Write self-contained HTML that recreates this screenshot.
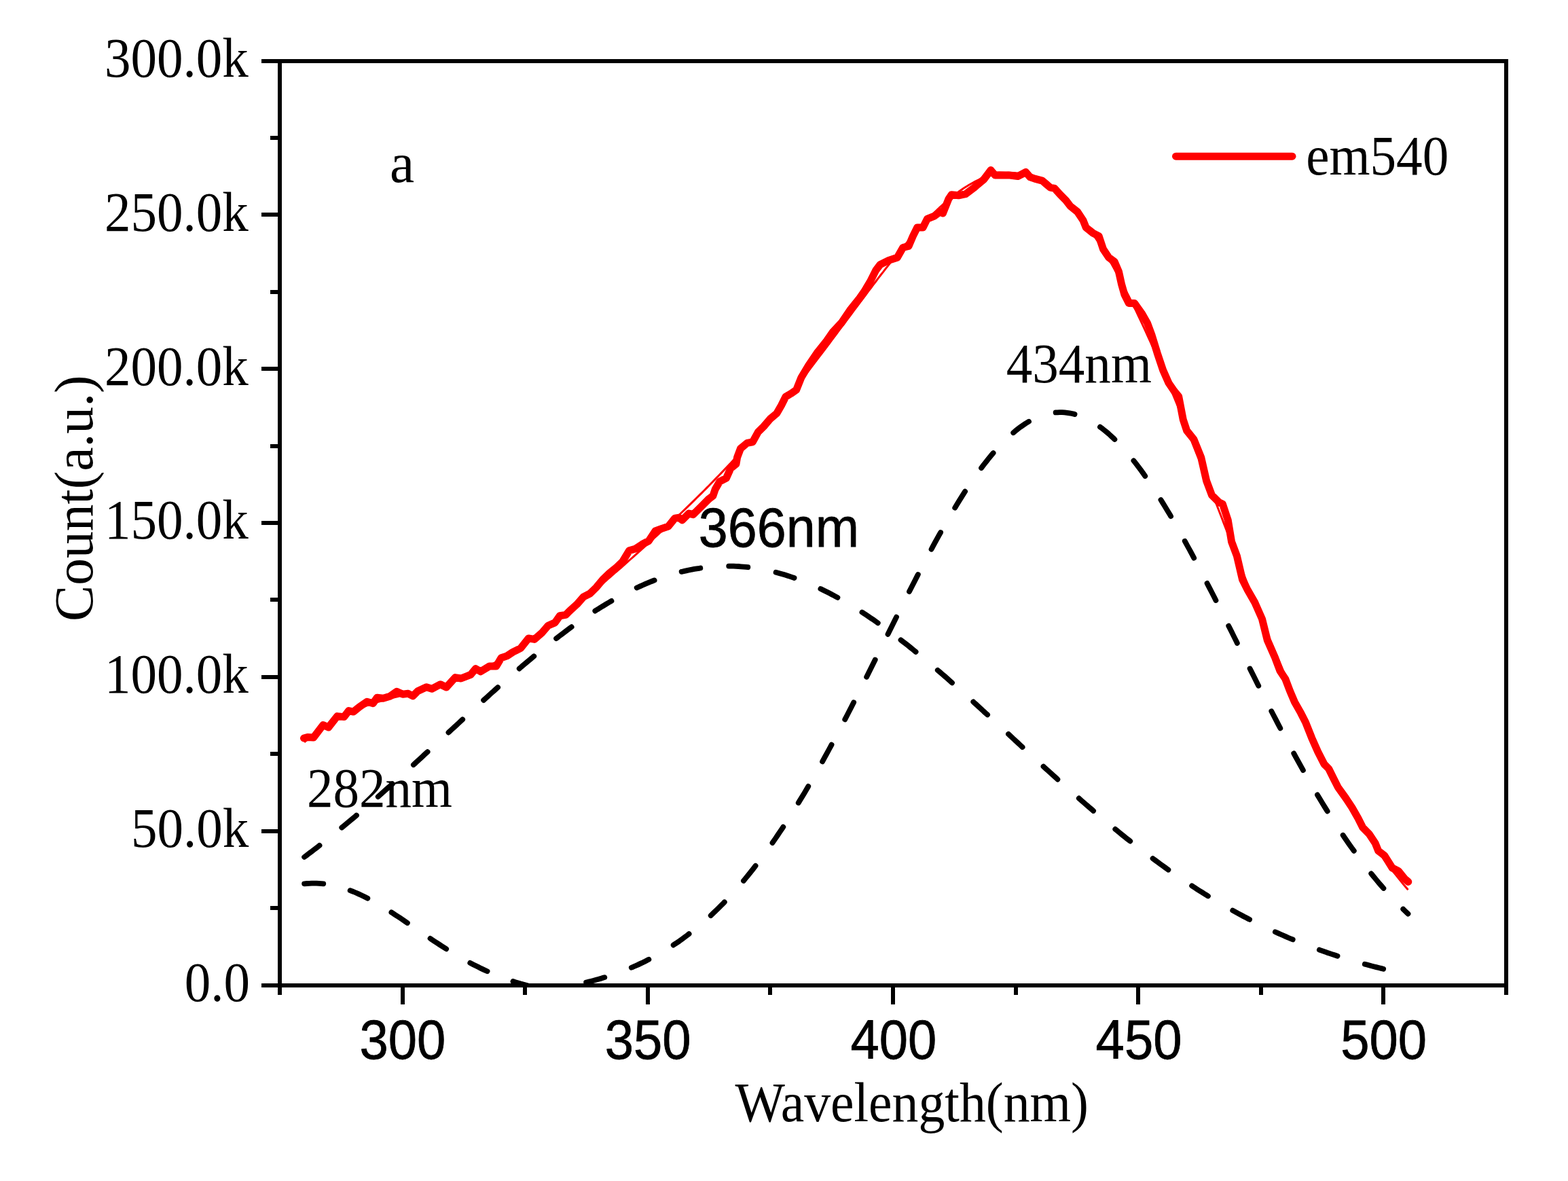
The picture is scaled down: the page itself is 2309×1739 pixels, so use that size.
<!DOCTYPE html><html><head><meta charset="utf-8"><title>Count vs Wavelength</title><style>html,body{margin:0;padding:0;background:#fff;overflow:hidden}svg{display:block}</style></head><body>
<svg width="2309" height="1739" viewBox="0 0 2309 1739">
<rect x="0" y="0" width="2309" height="1739" fill="#fff"/>
<defs><clipPath id="pc"><rect x="415.0" y="93.0" width="1800.0" height="1355.0"/></clipPath></defs>
<g clip-path="url(#pc)" fill="none">
<path d="M448.1,1301.3 L451.7,1301.0 L455.3,1300.8 L459.0,1300.6 L462.6,1300.6 L466.2,1300.7 L469.8,1300.9 L473.4,1301.1 L477.0,1301.5 L480.6,1302.0 L484.2,1302.5 L487.9,1303.2 L491.5,1303.9 L495.1,1304.7 L498.7,1305.7 L502.3,1306.7 L505.9,1307.8 L509.5,1309.0 L513.1,1310.2 L516.7,1311.6 L520.4,1313.0 L524.0,1314.5 L527.6,1316.1 L531.2,1317.8 L534.8,1319.5 L538.4,1321.3 L542.0,1323.1 L545.6,1325.1 L549.3,1327.0 L552.9,1329.1 L556.5,1331.1 L560.1,1333.3 L563.7,1335.4 L567.3,1337.6 L570.9,1339.9 L574.5,1342.2 L578.2,1344.5 L581.8,1346.9 L585.4,1349.2 L589.0,1351.6 L592.6,1354.0 L596.2,1356.5 L599.8,1358.9 L603.4,1361.4 L607.0,1363.8 L610.7,1366.3 L614.3,1368.8 L617.9,1371.2 L621.5,1373.7 L625.1,1376.2 L628.7,1378.6 L632.3,1381.0 L635.9,1383.5 L639.6,1385.9 L643.2,1388.3 L646.8,1390.6 L650.4,1393.0 L654.0,1395.3 L657.6,1397.6 L661.2,1399.8 L664.8,1402.0 L668.5,1404.2 L672.1,1406.4 L675.7,1408.5 L679.3,1410.6 L682.9,1412.7 L686.5,1414.7 L690.1,1416.6 L693.7,1418.6 L697.3,1420.5 L701.0,1422.3 L704.6,1424.1 L708.2,1425.9 L711.8,1427.6 L715.4,1429.3 L719.0,1430.9 L722.6,1432.5 L726.2,1434.1 L729.9,1435.6 L733.5,1437.0 L737.1,1438.5 L740.7,1439.8 L744.3,1441.2 L747.9,1442.5 L751.5,1443.7 L755.1,1444.9 L758.8,1446.1 L762.4,1447.2 L766.0,1448.3 L769.6,1449.3 L773.2,1450.3 L776.8,1451.3 L780.4,1452.3 L784.0,1453.2 L787.6,1454.0 L791.3,1454.8 L794.9,1455.6 L798.5,1456.4 L802.1,1457.1 L805.7,1457.8 L809.3,1458.5 L812.9,1459.1 L816.5,1459.7 L820.2,1460.3 L823.8,1460.9 L827.4,1461.4 L831.0,1461.9 L834.6,1462.4 L838.2,1462.9 L841.8,1463.3 L845.4,1463.7 L849.1,1464.1 L852.7,1464.5 L856.3,1464.8 L859.9,1465.2 L863.5,1465.5 L867.1,1465.8 L870.7,1466.1 L874.3,1466.3 L877.9,1466.6 L881.6,1466.8 L885.2,1467.0 L888.8,1467.3 L892.4,1467.5 L896.0,1467.6 L899.6,1467.8 L903.2,1468.0 L906.8,1468.1 L910.5,1468.3 L914.1,1468.4 L917.7,1468.6 L921.3,1468.7 L924.9,1468.8 L928.5,1468.9 L932.1,1469.0 L935.7,1469.1 L939.4,1469.2 L943.0,1469.3 L946.6,1469.3 L950.2,1469.4 L953.8,1469.5 L957.4,1469.5 L961.0,1469.6 L964.6,1469.6 L968.2,1469.7 L971.9,1469.7 L975.5,1469.8 L979.1,1469.8 L982.7,1469.9 L986.3,1469.9 L989.9,1469.9 L993.5,1470.0 L997.1,1470.0 L1000.8,1470.0 L1004.4,1470.0 L1008.0,1470.0 L1011.6,1470.1 L1015.2,1470.1 L1018.8,1470.1 L1022.4,1470.1 L1026.0,1470.1 L1029.7,1470.1 L1033.3,1470.2 L1036.9,1470.2 L1040.5,1470.2 L1044.1,1470.2 L1047.7,1470.2 L1051.3,1470.2 L1054.9,1470.2 L1058.5,1470.2 L1062.2,1470.2 L1065.8,1470.2 L1069.4,1470.2 L1073.0,1470.2 L1076.6,1470.2 L1080.2,1470.2 L1083.8,1470.2 L1087.4,1470.3 L1091.1,1470.3 L1094.7,1470.3 L1098.3,1470.3 L1101.9,1470.3 L1105.5,1470.3 L1109.1,1470.3 L1112.7,1470.3 L1116.3,1470.3 L1120.0,1470.3 L1123.6,1470.3 L1127.2,1470.3 L1130.8,1470.3 L1134.4,1470.3 L1138.0,1470.3 L1141.6,1470.3 L1145.2,1470.3 L1148.8,1470.3 L1152.5,1470.3 L1156.1,1470.3 L1159.7,1470.3 L1163.3,1470.3 L1166.9,1470.3 L1170.5,1470.3 L1174.1,1470.3 L1177.7,1470.3 L1181.4,1470.3 L1185.0,1470.3 L1188.6,1470.3 L1192.2,1470.3 L1195.8,1470.3 L1199.4,1470.3 L1203.0,1470.3 L1206.6,1470.3 L1210.3,1470.3 L1213.9,1470.3 L1217.5,1470.3 L1221.1,1470.3 L1224.7,1470.3 L1228.3,1470.3 L1231.9,1470.3 L1235.5,1470.3 L1239.1,1470.3 L1242.8,1470.3 L1246.4,1470.3 L1250.0,1470.3 L1253.6,1470.3 L1257.2,1470.3 L1260.8,1470.3 L1264.4,1470.3 L1268.0,1470.3 L1271.7,1470.3 L1275.3,1470.3 L1278.9,1470.3 L1282.5,1470.3 L1286.1,1470.3 L1289.7,1470.3 L1293.3,1470.3 L1296.9,1470.3 L1300.6,1470.3 L1304.2,1470.3 L1307.8,1470.3 L1311.4,1470.3 L1315.0,1470.3 L1318.6,1470.3 L1322.2,1470.3 L1325.8,1470.3 L1329.4,1470.3 L1333.1,1470.3 L1336.7,1470.3 L1340.3,1470.3 L1343.9,1470.3 L1347.5,1470.3 L1351.1,1470.3 L1354.7,1470.3 L1358.3,1470.3 L1362.0,1470.3 L1365.6,1470.3 L1369.2,1470.3 L1372.8,1470.3 L1376.4,1470.3 L1380.0,1470.3 L1383.6,1470.3 L1387.2,1470.3 L1390.9,1470.3 L1394.5,1470.3 L1398.1,1470.3 L1401.7,1470.3 L1405.3,1470.3 L1408.9,1470.3 L1412.5,1470.3 L1416.1,1470.3 L1419.7,1470.3 L1423.4,1470.3 L1427.0,1470.3 L1430.6,1470.3 L1434.2,1470.3 L1437.8,1470.3 L1441.4,1470.3 L1445.0,1470.3 L1448.6,1470.3 L1452.3,1470.3 L1455.9,1470.3 L1459.5,1470.3 L1463.1,1470.3 L1466.7,1470.3 L1470.3,1470.3 L1473.9,1470.3 L1477.5,1470.3 L1481.2,1470.3 L1484.8,1470.3 L1488.4,1470.3 L1492.0,1470.3 L1495.6,1470.3 L1499.2,1470.3 L1502.8,1470.3 L1506.4,1470.3 L1510.0,1470.3 L1513.7,1470.3 L1517.3,1470.3 L1520.9,1470.3 L1524.5,1470.3 L1528.1,1470.3 L1531.7,1470.3 L1535.3,1470.3 L1538.9,1470.3 L1542.6,1470.3 L1546.2,1470.3 L1549.8,1470.3 L1553.4,1470.3 L1557.0,1470.3 L1560.6,1470.3 L1564.2,1470.3 L1567.8,1470.3 L1571.5,1470.3 L1575.1,1470.3 L1578.7,1470.3 L1582.3,1470.3 L1585.9,1470.3 L1589.5,1470.3 L1593.1,1470.3 L1596.7,1470.3 L1600.3,1470.3 L1604.0,1470.3 L1607.6,1470.3 L1611.2,1470.3 L1614.8,1470.3 L1618.4,1470.3 L1622.0,1470.3 L1625.6,1470.3 L1629.2,1470.3 L1632.9,1470.3 L1636.5,1470.3 L1640.1,1470.3 L1643.7,1470.3 L1647.3,1470.3 L1650.9,1470.3 L1654.5,1470.3 L1658.1,1470.3 L1661.8,1470.3 L1665.4,1470.3 L1669.0,1470.3 L1672.6,1470.3 L1676.2,1470.3 L1679.8,1470.3 L1683.4,1470.3 L1687.0,1470.3 L1690.6,1470.3 L1694.3,1470.3 L1697.9,1470.3 L1701.5,1470.3 L1705.1,1470.3 L1708.7,1470.3 L1712.3,1470.3 L1715.9,1470.3 L1719.5,1470.3 L1723.2,1470.3 L1726.8,1470.3 L1730.4,1470.3 L1734.0,1470.3 L1737.6,1470.3 L1741.2,1470.3 L1744.8,1470.3 L1748.4,1470.3 L1752.1,1470.3 L1755.7,1470.3 L1759.3,1470.3 L1762.9,1470.3 L1766.5,1470.3 L1770.1,1470.3 L1773.7,1470.3 L1777.3,1470.3 L1780.9,1470.3 L1784.6,1470.3 L1788.2,1470.3 L1791.8,1470.3 L1795.4,1470.3 L1799.0,1470.3 L1802.6,1470.3 L1806.2,1470.3 L1809.8,1470.3 L1813.5,1470.3 L1817.1,1470.3 L1820.7,1470.3 L1824.3,1470.3 L1827.9,1470.3 L1831.5,1470.3 L1835.1,1470.3 L1838.7,1470.3 L1842.4,1470.3 L1846.0,1470.3 L1849.6,1470.3 L1853.2,1470.3 L1856.8,1470.3 L1860.4,1470.3 L1864.0,1470.3 L1867.6,1470.3 L1871.2,1470.3 L1874.9,1470.3 L1878.5,1470.3 L1882.1,1470.3 L1885.7,1470.3 L1889.3,1470.3 L1892.9,1470.3 L1896.5,1470.3 L1900.1,1470.3 L1903.8,1470.3 L1907.4,1470.3 L1911.0,1470.3 L1914.6,1470.3 L1918.2,1470.3 L1921.8,1470.3 L1925.4,1470.3 L1929.0,1470.3 L1932.7,1470.3 L1936.3,1470.3 L1939.9,1470.3 L1943.5,1470.3 L1947.1,1470.3 L1950.7,1470.3 L1954.3,1470.3 L1957.9,1470.3 L1961.5,1470.3 L1965.2,1470.3 L1968.8,1470.3 L1972.4,1470.3 L1976.0,1470.3 L1979.6,1470.3 L1983.2,1470.3 L1986.8,1470.3 L1990.4,1470.3 L1994.1,1470.3 L1997.7,1470.3 L2001.3,1470.3 L2004.9,1470.3 L2008.5,1470.3 L2012.1,1470.3 L2015.7,1470.3 L2019.3,1470.3 L2023.0,1470.3 L2026.6,1470.3 L2030.2,1470.3 L2033.8,1470.3 L2037.4,1470.3 L2041.0,1470.3 L2044.6,1470.3 L2048.2,1470.3 L2051.8,1470.3 L2055.5,1470.3 L2059.1,1470.3 L2062.7,1470.3 L2066.3,1470.3 L2069.9,1470.3 L2073.5,1470.3" stroke="#000" stroke-width="7.8" stroke-dasharray="28.2 40.70" stroke-dashoffset="0.0" stroke-linecap="round" stroke-linejoin="round"/>
<path d="M448.1,1262.0 L451.7,1259.3 L455.3,1256.5 L459.0,1253.8 L462.6,1251.0 L466.2,1248.3 L469.8,1245.5 L473.4,1242.6 L477.0,1239.8 L480.6,1236.9 L484.2,1234.1 L487.9,1231.2 L491.5,1228.3 L495.1,1225.3 L498.7,1222.4 L502.3,1219.4 L505.9,1216.5 L509.5,1213.5 L513.1,1210.5 L516.7,1207.5 L520.4,1204.4 L524.0,1201.4 L527.6,1198.3 L531.2,1195.2 L534.8,1192.1 L538.4,1189.0 L542.0,1185.9 L545.6,1182.8 L549.3,1179.6 L552.9,1176.5 L556.5,1173.3 L560.1,1170.1 L563.7,1166.9 L567.3,1163.7 L570.9,1160.5 L574.5,1157.3 L578.2,1154.0 L581.8,1150.8 L585.4,1147.5 L589.0,1144.3 L592.6,1141.0 L596.2,1137.7 L599.8,1134.4 L603.4,1131.1 L607.0,1127.8 L610.7,1124.5 L614.3,1121.2 L617.9,1117.9 L621.5,1114.6 L625.1,1111.2 L628.7,1107.9 L632.3,1104.6 L635.9,1101.2 L639.6,1097.9 L643.2,1094.5 L646.8,1091.2 L650.4,1087.9 L654.0,1084.5 L657.6,1081.2 L661.2,1077.8 L664.8,1074.5 L668.5,1071.1 L672.1,1067.8 L675.7,1064.5 L679.3,1061.1 L682.9,1057.8 L686.5,1054.5 L690.1,1051.1 L693.7,1047.8 L697.3,1044.5 L701.0,1041.2 L704.6,1037.9 L708.2,1034.6 L711.8,1031.3 L715.4,1028.1 L719.0,1024.8 L722.6,1021.5 L726.2,1018.3 L729.9,1015.0 L733.5,1011.8 L737.1,1008.6 L740.7,1005.4 L744.3,1002.2 L747.9,999.0 L751.5,995.9 L755.1,992.7 L758.8,989.6 L762.4,986.5 L766.0,983.4 L769.6,980.3 L773.2,977.3 L776.8,974.2 L780.4,971.2 L784.0,968.2 L787.6,965.2 L791.3,962.2 L794.9,959.3 L798.5,956.3 L802.1,953.4 L805.7,950.6 L809.3,947.7 L812.9,944.9 L816.5,942.1 L820.2,939.3 L823.8,936.5 L827.4,933.8 L831.0,931.1 L834.6,928.4 L838.2,925.7 L841.8,923.1 L845.4,920.5 L849.1,918.0 L852.7,915.4 L856.3,912.9 L859.9,910.4 L863.5,908.0 L867.1,905.6 L870.7,903.2 L874.3,900.9 L877.9,898.5 L881.6,896.3 L885.2,894.0 L888.8,891.8 L892.4,889.6 L896.0,887.5 L899.6,885.4 L903.2,883.3 L906.8,881.3 L910.5,879.3 L914.1,877.3 L917.7,875.4 L921.3,873.5 L924.9,871.7 L928.5,869.9 L932.1,868.1 L935.7,866.4 L939.4,864.7 L943.0,863.1 L946.6,861.5 L950.2,859.9 L953.8,858.4 L957.4,856.9 L961.0,855.5 L964.6,854.1 L968.2,852.8 L971.9,851.5 L975.5,850.2 L979.1,849.0 L982.7,847.8 L986.3,846.7 L989.9,845.6 L993.5,844.6 L997.1,843.6 L1000.8,842.6 L1004.4,841.7 L1008.0,840.9 L1011.6,840.1 L1015.2,839.3 L1018.8,838.6 L1022.4,837.9 L1026.0,837.3 L1029.7,836.8 L1033.3,836.2 L1036.9,835.7 L1040.5,835.3 L1044.1,834.9 L1047.7,834.6 L1051.3,834.3 L1054.9,834.1 L1058.5,833.9 L1062.2,833.7 L1065.8,833.6 L1069.4,833.6 L1073.0,833.6 L1076.6,833.6 L1080.2,833.7 L1083.8,833.9 L1087.4,834.0 L1091.1,834.3 L1094.7,834.6 L1098.3,834.9 L1101.9,835.3 L1105.5,835.7 L1109.1,836.2 L1112.7,836.7 L1116.3,837.3 L1120.0,837.9 L1123.6,838.5 L1127.2,839.2 L1130.8,840.0 L1134.4,840.8 L1138.0,841.6 L1141.6,842.5 L1145.2,843.5 L1148.8,844.5 L1152.5,845.5 L1156.1,846.6 L1159.7,847.7 L1163.3,848.9 L1166.9,850.1 L1170.5,851.3 L1174.1,852.6 L1177.7,854.0 L1181.4,855.3 L1185.0,856.8 L1188.6,858.2 L1192.2,859.7 L1195.8,861.3 L1199.4,862.9 L1203.0,864.5 L1206.6,866.2 L1210.3,867.9 L1213.9,869.7 L1217.5,871.5 L1221.1,873.3 L1224.7,875.2 L1228.3,877.1 L1231.9,879.1 L1235.5,881.1 L1239.1,883.1 L1242.8,885.1 L1246.4,887.2 L1250.0,889.4 L1253.6,891.6 L1257.2,893.8 L1260.8,896.0 L1264.4,898.3 L1268.0,900.6 L1271.7,902.9 L1275.3,905.3 L1278.9,907.7 L1282.5,910.2 L1286.1,912.6 L1289.7,915.1 L1293.3,917.7 L1296.9,920.2 L1300.6,922.8 L1304.2,925.5 L1307.8,928.1 L1311.4,930.8 L1315.0,933.5 L1318.6,936.2 L1322.2,939.0 L1325.8,941.8 L1329.4,944.6 L1333.1,947.4 L1336.7,950.2 L1340.3,953.1 L1343.9,956.0 L1347.5,959.0 L1351.1,961.9 L1354.7,964.9 L1358.3,967.8 L1362.0,970.9 L1365.6,973.9 L1369.2,976.9 L1372.8,980.0 L1376.4,983.1 L1380.0,986.2 L1383.6,989.3 L1387.2,992.4 L1390.9,995.5 L1394.5,998.7 L1398.1,1001.9 L1401.7,1005.1 L1405.3,1008.3 L1408.9,1011.5 L1412.5,1014.7 L1416.1,1017.9 L1419.7,1021.2 L1423.4,1024.4 L1427.0,1027.7 L1430.6,1031.0 L1434.2,1034.3 L1437.8,1037.5 L1441.4,1040.8 L1445.0,1044.1 L1448.6,1047.5 L1452.3,1050.8 L1455.9,1054.1 L1459.5,1057.4 L1463.1,1060.8 L1466.7,1064.1 L1470.3,1067.4 L1473.9,1070.8 L1477.5,1074.1 L1481.2,1077.5 L1484.8,1080.8 L1488.4,1084.1 L1492.0,1087.5 L1495.6,1090.8 L1499.2,1094.2 L1502.8,1097.5 L1506.4,1100.9 L1510.0,1104.2 L1513.7,1107.5 L1517.3,1110.9 L1520.9,1114.2 L1524.5,1117.5 L1528.1,1120.8 L1531.7,1124.2 L1535.3,1127.5 L1538.9,1130.8 L1542.6,1134.1 L1546.2,1137.3 L1549.8,1140.6 L1553.4,1143.9 L1557.0,1147.2 L1560.6,1150.4 L1564.2,1153.7 L1567.8,1156.9 L1571.5,1160.1 L1575.1,1163.4 L1578.7,1166.6 L1582.3,1169.8 L1585.9,1172.9 L1589.5,1176.1 L1593.1,1179.3 L1596.7,1182.4 L1600.3,1185.6 L1604.0,1188.7 L1607.6,1191.8 L1611.2,1194.9 L1614.8,1198.0 L1618.4,1201.0 L1622.0,1204.1 L1625.6,1207.1 L1629.2,1210.1 L1632.9,1213.2 L1636.5,1216.1 L1640.1,1219.1 L1643.7,1222.1 L1647.3,1225.0 L1650.9,1228.0 L1654.5,1230.9 L1658.1,1233.8 L1661.8,1236.6 L1665.4,1239.5 L1669.0,1242.3 L1672.6,1245.1 L1676.2,1248.0 L1679.8,1250.7 L1683.4,1253.5 L1687.0,1256.3 L1690.6,1259.0 L1694.3,1261.7 L1697.9,1264.4 L1701.5,1267.0 L1705.1,1269.7 L1708.7,1272.3 L1712.3,1274.9 L1715.9,1277.5 L1719.5,1280.1 L1723.2,1282.7 L1726.8,1285.2 L1730.4,1287.7 L1734.0,1290.2 L1737.6,1292.7 L1741.2,1295.1 L1744.8,1297.5 L1748.4,1299.9 L1752.1,1302.3 L1755.7,1304.7 L1759.3,1307.0 L1762.9,1309.4 L1766.5,1311.7 L1770.1,1313.9 L1773.7,1316.2 L1777.3,1318.4 L1780.9,1320.7 L1784.6,1322.8 L1788.2,1325.0 L1791.8,1327.2 L1795.4,1329.3 L1799.0,1331.4 L1802.6,1333.5 L1806.2,1335.6 L1809.8,1337.6 L1813.5,1339.6 L1817.1,1341.6 L1820.7,1343.6 L1824.3,1345.6 L1827.9,1347.5 L1831.5,1349.5 L1835.1,1351.3 L1838.7,1353.2 L1842.4,1355.1 L1846.0,1356.9 L1849.6,1358.7 L1853.2,1360.5 L1856.8,1362.3 L1860.4,1364.0 L1864.0,1365.8 L1867.6,1367.5 L1871.2,1369.2 L1874.9,1370.9 L1878.5,1372.5 L1882.1,1374.1 L1885.7,1375.7 L1889.3,1377.3 L1892.9,1378.9 L1896.5,1380.5 L1900.1,1382.0 L1903.8,1383.5 L1907.4,1385.0 L1911.0,1386.5 L1914.6,1387.9 L1918.2,1389.3 L1921.8,1390.8 L1925.4,1392.2 L1929.0,1393.5 L1932.7,1394.9 L1936.3,1396.2 L1939.9,1397.5 L1943.5,1398.9 L1947.1,1400.1 L1950.7,1401.4 L1954.3,1402.7 L1957.9,1403.9 L1961.5,1405.1 L1965.2,1406.3 L1968.8,1407.5 L1972.4,1408.6 L1976.0,1409.8 L1979.6,1410.9 L1983.2,1412.0 L1986.8,1413.1 L1990.4,1414.2 L1994.1,1415.3 L1997.7,1416.3 L2001.3,1417.3 L2004.9,1418.4 L2008.5,1419.4 L2012.1,1420.3 L2015.7,1421.3 L2019.3,1422.3 L2023.0,1423.2 L2026.6,1424.1 L2030.2,1425.0 L2033.8,1425.9 L2037.4,1426.8 L2041.0,1427.7 L2044.6,1428.5 L2048.2,1429.4 L2051.8,1430.2 L2055.5,1431.0 L2059.1,1431.8 L2062.7,1432.6 L2066.3,1433.3 L2069.9,1434.1 L2073.5,1434.8" stroke="#000" stroke-width="7.8" stroke-dasharray="28.2 42.00" stroke-dashoffset="0.0" stroke-linecap="round" stroke-linejoin="round"/>
<path d="M448.1,1470.2 L451.7,1470.2 L455.3,1470.2 L459.0,1470.2 L462.6,1470.2 L466.2,1470.2 L469.8,1470.1 L473.4,1470.1 L477.0,1470.1 L480.6,1470.1 L484.2,1470.1 L487.9,1470.1 L491.5,1470.1 L495.1,1470.1 L498.7,1470.1 L502.3,1470.1 L505.9,1470.0 L509.5,1470.0 L513.1,1470.0 L516.7,1470.0 L520.4,1470.0 L524.0,1470.0 L527.6,1470.0 L531.2,1469.9 L534.8,1469.9 L538.4,1469.9 L542.0,1469.9 L545.6,1469.9 L549.3,1469.8 L552.9,1469.8 L556.5,1469.8 L560.1,1469.8 L563.7,1469.7 L567.3,1469.7 L570.9,1469.7 L574.5,1469.6 L578.2,1469.6 L581.8,1469.6 L585.4,1469.5 L589.0,1469.5 L592.6,1469.4 L596.2,1469.4 L599.8,1469.3 L603.4,1469.3 L607.0,1469.2 L610.7,1469.2 L614.3,1469.1 L617.9,1469.1 L621.5,1469.0 L625.1,1468.9 L628.7,1468.9 L632.3,1468.8 L635.9,1468.7 L639.6,1468.6 L643.2,1468.6 L646.8,1468.5 L650.4,1468.4 L654.0,1468.3 L657.6,1468.2 L661.2,1468.1 L664.8,1468.0 L668.5,1467.9 L672.1,1467.8 L675.7,1467.6 L679.3,1467.5 L682.9,1467.4 L686.5,1467.2 L690.1,1467.1 L693.7,1466.9 L697.3,1466.8 L701.0,1466.6 L704.6,1466.4 L708.2,1466.3 L711.8,1466.1 L715.4,1465.9 L719.0,1465.7 L722.6,1465.5 L726.2,1465.3 L729.9,1465.0 L733.5,1464.8 L737.1,1464.5 L740.7,1464.3 L744.3,1464.0 L747.9,1463.7 L751.5,1463.4 L755.1,1463.1 L758.8,1462.8 L762.4,1462.5 L766.0,1462.2 L769.6,1461.8 L773.2,1461.5 L776.8,1461.1 L780.4,1460.7 L784.0,1460.3 L787.6,1459.9 L791.3,1459.4 L794.9,1459.0 L798.5,1458.5 L802.1,1458.0 L805.7,1457.5 L809.3,1457.0 L812.9,1456.4 L816.5,1455.9 L820.2,1455.3 L823.8,1454.7 L827.4,1454.1 L831.0,1453.4 L834.6,1452.8 L838.2,1452.1 L841.8,1451.4 L845.4,1450.6 L849.1,1449.9 L852.7,1449.1 L856.3,1448.3 L859.9,1447.4 L863.5,1446.5 L867.1,1445.6 L870.7,1444.7 L874.3,1443.8 L877.9,1442.8 L881.6,1441.8 L885.2,1440.7 L888.8,1439.6 L892.4,1438.5 L896.0,1437.4 L899.6,1436.2 L903.2,1435.0 L906.8,1433.7 L910.5,1432.4 L914.1,1431.1 L917.7,1429.7 L921.3,1428.3 L924.9,1426.8 L928.5,1425.3 L932.1,1423.8 L935.7,1422.2 L939.4,1420.6 L943.0,1418.9 L946.6,1417.2 L950.2,1415.4 L953.8,1413.6 L957.4,1411.8 L961.0,1409.9 L964.6,1407.9 L968.2,1405.9 L971.9,1403.8 L975.5,1401.7 L979.1,1399.6 L982.7,1397.3 L986.3,1395.1 L989.9,1392.7 L993.5,1390.3 L997.1,1387.9 L1000.8,1385.4 L1004.4,1382.8 L1008.0,1380.2 L1011.6,1377.5 L1015.2,1374.7 L1018.8,1371.9 L1022.4,1369.1 L1026.0,1366.1 L1029.7,1363.1 L1033.3,1360.0 L1036.9,1356.9 L1040.5,1353.7 L1044.1,1350.4 L1047.7,1347.1 L1051.3,1343.7 L1054.9,1340.2 L1058.5,1336.7 L1062.2,1333.0 L1065.8,1329.4 L1069.4,1325.6 L1073.0,1321.8 L1076.6,1317.9 L1080.2,1313.9 L1083.8,1309.8 L1087.4,1305.7 L1091.1,1301.5 L1094.7,1297.3 L1098.3,1292.9 L1101.9,1288.5 L1105.5,1284.0 L1109.1,1279.5 L1112.7,1274.8 L1116.3,1270.1 L1120.0,1265.3 L1123.6,1260.5 L1127.2,1255.5 L1130.8,1250.5 L1134.4,1245.4 L1138.0,1240.3 L1141.6,1235.1 L1145.2,1229.8 L1148.8,1224.4 L1152.5,1219.0 L1156.1,1213.4 L1159.7,1207.9 L1163.3,1202.2 L1166.9,1196.5 L1170.5,1190.7 L1174.1,1184.8 L1177.7,1178.9 L1181.4,1172.9 L1185.0,1166.9 L1188.6,1160.7 L1192.2,1154.6 L1195.8,1148.3 L1199.4,1142.0 L1203.0,1135.7 L1206.6,1129.2 L1210.3,1122.8 L1213.9,1116.2 L1217.5,1109.6 L1221.1,1103.0 L1224.7,1096.3 L1228.3,1089.6 L1231.9,1082.8 L1235.5,1076.0 L1239.1,1069.1 L1242.8,1062.2 L1246.4,1055.2 L1250.0,1048.3 L1253.6,1041.2 L1257.2,1034.2 L1260.8,1027.1 L1264.4,1020.0 L1268.0,1012.8 L1271.7,1005.7 L1275.3,998.5 L1278.9,991.3 L1282.5,984.1 L1286.1,976.8 L1289.7,969.6 L1293.3,962.3 L1296.9,955.1 L1300.6,947.8 L1304.2,940.6 L1307.8,933.3 L1311.4,926.0 L1315.0,918.8 L1318.6,911.5 L1322.2,904.3 L1325.8,897.1 L1329.4,889.9 L1333.1,882.8 L1336.7,875.6 L1340.3,868.5 L1343.9,861.5 L1347.5,854.4 L1351.1,847.4 L1354.7,840.5 L1358.3,833.5 L1362.0,826.7 L1365.6,819.9 L1369.2,813.1 L1372.8,806.4 L1376.4,799.7 L1380.0,793.2 L1383.6,786.7 L1387.2,780.2 L1390.9,773.8 L1394.5,767.6 L1398.1,761.3 L1401.7,755.2 L1405.3,749.2 L1408.9,743.2 L1412.5,737.4 L1416.1,731.6 L1419.7,725.9 L1423.4,720.3 L1427.0,714.9 L1430.6,709.5 L1434.2,704.3 L1437.8,699.1 L1441.4,694.1 L1445.0,689.2 L1448.6,684.4 L1452.3,679.8 L1455.9,675.2 L1459.5,670.8 L1463.1,666.5 L1466.7,662.4 L1470.3,658.4 L1473.9,654.5 L1477.5,650.8 L1481.2,647.2 L1484.8,643.7 L1488.4,640.4 L1492.0,637.3 L1495.6,634.3 L1499.2,631.4 L1502.8,628.7 L1506.4,626.2 L1510.0,623.8 L1513.7,621.5 L1517.3,619.4 L1520.9,617.5 L1524.5,615.8 L1528.1,614.2 L1531.7,612.7 L1535.3,611.5 L1538.9,610.3 L1542.6,609.4 L1546.2,608.6 L1549.8,608.0 L1553.4,607.5 L1557.0,607.3 L1560.6,607.1 L1564.2,607.2 L1567.8,607.4 L1571.5,607.8 L1575.1,608.3 L1578.7,609.0 L1582.3,609.9 L1585.9,610.9 L1589.5,612.1 L1593.1,613.5 L1596.7,615.0 L1600.3,616.7 L1604.0,618.6 L1607.6,620.6 L1611.2,622.8 L1614.8,625.1 L1618.4,627.6 L1622.0,630.2 L1625.6,633.0 L1629.2,635.9 L1632.9,639.0 L1636.5,642.3 L1640.1,645.7 L1643.7,649.2 L1647.3,652.9 L1650.9,656.7 L1654.5,660.6 L1658.1,664.7 L1661.8,668.9 L1665.4,673.3 L1669.0,677.8 L1672.6,682.4 L1676.2,687.1 L1679.8,691.9 L1683.4,696.9 L1687.0,702.0 L1690.6,707.2 L1694.3,712.5 L1697.9,717.9 L1701.5,723.5 L1705.1,729.1 L1708.7,734.8 L1712.3,740.6 L1715.9,746.5 L1719.5,752.5 L1723.2,758.6 L1726.8,764.8 L1730.4,771.1 L1734.0,777.4 L1737.6,783.8 L1741.2,790.3 L1744.8,796.8 L1748.4,803.5 L1752.1,810.1 L1755.7,816.9 L1759.3,823.7 L1762.9,830.5 L1766.5,837.4 L1770.1,844.3 L1773.7,851.3 L1777.3,858.4 L1780.9,865.4 L1784.6,872.5 L1788.2,879.6 L1791.8,886.8 L1795.4,894.0 L1799.0,901.2 L1802.6,908.4 L1806.2,915.6 L1809.8,922.8 L1813.5,930.1 L1817.1,937.4 L1820.7,944.6 L1824.3,951.9 L1827.9,959.1 L1831.5,966.4 L1835.1,973.6 L1838.7,980.9 L1842.4,988.1 L1846.0,995.3 L1849.6,1002.5 L1853.2,1009.7 L1856.8,1016.8 L1860.4,1024.0 L1864.0,1031.1 L1867.6,1038.1 L1871.2,1045.2 L1874.9,1052.2 L1878.5,1059.1 L1882.1,1066.1 L1885.7,1073.0 L1889.3,1079.8 L1892.9,1086.6 L1896.5,1093.4 L1900.1,1100.1 L1903.8,1106.7 L1907.4,1113.3 L1911.0,1119.9 L1914.6,1126.4 L1918.2,1132.8 L1921.8,1139.2 L1925.4,1145.6 L1929.0,1151.8 L1932.7,1158.0 L1936.3,1164.2 L1939.9,1170.3 L1943.5,1176.3 L1947.1,1182.2 L1950.7,1188.1 L1954.3,1193.9 L1957.9,1199.7 L1961.5,1205.4 L1965.2,1211.0 L1968.8,1216.5 L1972.4,1222.0 L1976.0,1227.4 L1979.6,1232.7 L1983.2,1238.0 L1986.8,1243.2 L1990.4,1248.3 L1994.1,1253.3 L1997.7,1258.3 L2001.3,1263.2 L2004.9,1268.0 L2008.5,1272.8 L2012.1,1277.4 L2015.7,1282.0 L2019.3,1286.5 L2023.0,1291.0 L2026.6,1295.4 L2030.2,1299.7 L2033.8,1303.9 L2037.4,1308.0 L2041.0,1312.1 L2044.6,1316.1 L2048.2,1320.1 L2051.8,1323.9 L2055.5,1327.7 L2059.1,1331.4 L2062.7,1335.1 L2066.3,1338.7 L2069.9,1342.2 L2073.5,1345.6" stroke="#000" stroke-width="7.8" stroke-dasharray="28.2 42.08" stroke-dashoffset="5.1" stroke-linecap="round" stroke-linejoin="round"/>
<path d="M447.5,1087.0 L452.9,1085.4 L461.8,1085.9 L475.8,1067.5 L483.7,1071.0 L496.6,1054.6 L506.6,1055.6 L513.5,1046.6 L520.5,1048.1 L529.5,1040.7 L540.4,1033.2 L549.4,1035.7 L555.3,1027.2 L564.3,1028.2 L574.2,1025.3 L584.2,1018.3 L593.1,1022.3 L601.1,1021.3 L608.0,1024.8 L615.0,1017.8 L627.9,1011.8 L635.9,1014.3 L648.6,1007.7 L657.3,1012.0 L670.3,997.6 L678.9,999.0 L693.3,993.3 L700.5,984.6 L707.7,988.9 L720.7,981.0 L730.8,981.0 L738.0,968.8 L746.6,965.9 L755.3,960.1 L766.8,954.4 L778.3,939.9 L787.0,941.4 L798.5,931.3 L807.1,921.2 L817.2,916.9 L824.4,906.8 L833.1,905.4 L838.8,899.6 L849.6,889.8 L859.2,878.8 L868.8,874.0 L878.4,864.6 L888.0,852.9 L897.6,843.8 L907.2,836.1 L916.8,826.9 L926.5,810.8 L936.1,807.9 L945.7,801.5 L955.3,796.5 L964.9,782.0 L974.5,778.4 L984.1,775.1 L993.7,763.2 L1000.0,762.3 L1004.6,765.8 L1014.3,756.1 L1020.8,757.7 L1033.7,744.8 L1043.5,735.0 L1049.9,730.2 L1053.2,720.5 L1059.7,709.1 L1069.4,704.2 L1075.9,689.7 L1084.0,683.2 L1085.6,673.5 L1090.5,660.5 L1100.2,652.4 L1108.3,650.8 L1116.4,636.2 L1124.5,628.1 L1134.2,616.7 L1143.9,608.6 L1150.4,597.3 L1156.9,584.3 L1165.0,579.4 L1172.7,574.0 L1179.9,556.0 L1190.7,538.0 L1202.9,520.0 L1217.3,502.0 L1226.7,488.5 L1239.3,475.0 L1251.5,457.0 L1265.9,439.0 L1272.2,430.0 L1281.3,414.9 L1289.7,398.1 L1296.1,389.7 L1308.7,383.4 L1321.3,379.2 L1329.7,364.5 L1338.1,362.4 L1344.4,347.6 L1350.7,335.0 L1359.1,335.0 L1365.4,322.4 L1375.9,318.2 L1384.3,311.9 L1388.5,314.0 L1396.9,293.0 L1401.1,286.7 L1411.6,287.8 L1422.1,285.7 L1434.7,276.2 L1440.0,271.4 L1449.0,263.9 L1459.0,250.5 L1465.3,258.0 L1471.6,257.8 L1485.2,257.9 L1498.8,259.6 L1510.5,253.5 L1516.9,260.8 L1523.6,263.1 L1534.9,266.1 L1540.0,270.5 L1546.6,276.2 L1552.9,277.3 L1561.3,286.7 L1569.7,295.1 L1576.1,303.5 L1586.6,311.9 L1595.0,324.5 L1599.2,335.0 L1609.7,343.4 L1618.1,347.6 L1624.4,366.6 L1632.8,379.2 L1641.2,385.5 L1647.5,400.2 L1651.7,419.1 L1655.9,433.8 L1662.2,446.4 L1670.6,446.4 L1681.1,461.1 L1689.5,475.8 L1695.8,492.6 L1704.2,519.9 L1712.6,545.1 L1721.0,564.0 L1729.1,575.9 L1735.7,583.8 L1742.3,618.1 L1747.6,634.0 L1758.1,647.2 L1768.7,673.6 L1776.6,708.0 L1784.5,729.1 L1795.1,739.7 L1800.4,742.3 L1808.3,766.1 L1813.6,797.8 L1821.5,818.9 L1829.5,853.3 L1837.4,869.1 L1848.0,887.6 L1858.5,911.4 L1866.4,943.1 L1877.0,966.9 L1885.0,988.0 L1892.8,999.7 L1899.7,1017.9 L1906.5,1033.9 L1915.6,1049.9 L1922.5,1063.5 L1931.6,1086.4 L1940.7,1106.9 L1949.9,1125.1 L1956.7,1132.0 L1963.5,1145.7 L1970.4,1159.4 L1981.8,1175.3 L1990.9,1189.0 L2000.0,1205.0 L2006.9,1218.7 L2016.0,1227.8 L2025.1,1241.5 L2029.7,1252.9 L2038.8,1259.8 L2050.2,1278.0 L2059.4,1282.6 L2068.5,1294.0 L2073.8,1298.5" stroke="#f00" stroke-width="11" stroke-linecap="round" stroke-linejoin="round"/>
<path d="M448.1,1092.9 L451.7,1089.9 L455.3,1086.9 L459.0,1084.1 L462.6,1081.3 L466.2,1078.5 L469.8,1075.9 L473.4,1073.3 L477.0,1070.9 L480.6,1068.5 L484.2,1066.1 L487.9,1063.9 L491.5,1061.7 L495.1,1059.6 L498.7,1057.6 L502.3,1055.6 L505.9,1053.7 L509.5,1051.9 L513.1,1050.2 L516.7,1048.5 L520.4,1046.9 L524.0,1045.3 L527.6,1043.8 L531.2,1042.4 L534.8,1041.0 L538.4,1039.6 L542.0,1038.3 L545.6,1037.1 L549.3,1035.9 L552.9,1034.7 L556.5,1033.6 L560.1,1032.5 L563.7,1031.5 L567.3,1030.5 L570.9,1029.5 L574.5,1028.5 L578.2,1027.5 L581.8,1026.6 L585.4,1025.7 L589.0,1024.8 L592.6,1023.9 L596.2,1023.0 L599.8,1022.1 L603.4,1021.2 L607.0,1020.3 L610.7,1019.4 L614.3,1018.5 L617.9,1017.6 L621.5,1016.7 L625.1,1015.8 L628.7,1014.8 L632.3,1013.9 L635.9,1012.9 L639.6,1011.8 L643.2,1010.8 L646.8,1009.7 L650.4,1008.6 L654.0,1007.5 L657.6,1006.4 L661.2,1005.2 L664.8,1003.9 L668.5,1002.7 L672.1,1001.4 L675.7,1000.0 L679.3,998.7 L682.9,997.3 L686.5,995.8 L690.1,994.3 L693.7,992.8 L697.3,991.2 L701.0,989.6 L704.6,987.9 L708.2,986.2 L711.8,984.5 L715.4,982.7 L719.0,980.8 L722.6,979.0 L726.2,977.0 L729.9,975.1 L733.5,973.1 L737.1,971.0 L740.7,969.0 L744.3,966.8 L747.9,964.7 L751.5,962.5 L755.1,960.2 L758.8,958.0 L762.4,955.6 L766.0,953.3 L769.6,950.9 L773.2,948.5 L776.8,946.0 L780.4,943.6 L784.0,941.0 L787.6,938.5 L791.3,935.9 L794.9,933.3 L798.5,930.7 L802.1,928.0 L805.7,925.3 L809.3,922.6 L812.9,919.9 L816.5,917.1 L820.2,914.3 L823.8,911.5 L827.4,908.7 L831.0,905.9 L834.6,903.0 L838.2,900.1 L841.8,897.2 L845.4,894.3 L849.1,891.3 L852.7,888.4 L856.3,885.4 L859.9,882.4 L863.5,879.4 L867.1,876.4 L870.7,873.4 L874.3,870.4 L877.9,867.3 L881.6,864.3 L885.2,861.2 L888.8,858.1 L892.4,855.0 L896.0,851.9 L899.6,848.8 L903.2,845.7 L906.8,842.5 L910.5,839.4 L914.1,836.3 L917.7,833.1 L921.3,829.9 L924.9,826.7 L928.5,823.5 L932.1,820.3 L935.7,817.1 L939.4,813.9 L943.0,810.7 L946.6,807.4 L950.2,804.2 L953.8,800.9 L957.4,797.7 L961.0,794.4 L964.6,791.1 L968.2,787.8 L971.9,784.5 L975.5,781.1 L979.1,777.8 L982.7,774.4 L986.3,771.1 L989.9,767.7 L993.5,764.3 L997.1,760.9 L1000.8,757.5 L1004.4,754.0 L1008.0,750.6 L1011.6,747.1 L1015.2,743.6 L1018.8,740.1 L1022.4,736.6 L1026.0,733.0 L1029.7,729.4 L1033.3,725.9 L1036.9,722.3 L1040.5,718.6 L1044.1,715.0 L1047.7,711.3 L1051.3,707.6 L1054.9,703.9 L1058.5,700.2 L1062.2,696.4 L1065.8,692.6 L1069.4,688.8 L1073.0,685.0 L1076.6,681.2 L1080.2,677.3 L1083.8,673.4 L1087.4,669.5 L1091.1,665.5 L1094.7,661.5 L1098.3,657.5 L1101.9,653.5 L1105.5,649.4 L1109.1,645.3 L1112.7,641.2 L1116.3,637.1 L1120.0,632.9 L1123.6,628.7 L1127.2,624.5 L1130.8,620.2 L1134.4,616.0 L1138.0,611.7 L1141.6,607.3 L1145.2,603.0 L1148.8,598.6 L1152.5,594.2 L1156.1,589.7 L1159.7,585.3 L1163.3,580.8 L1166.9,576.3 L1170.5,571.7 L1174.1,567.2 L1177.7,562.6 L1181.4,558.0 L1185.0,553.3 L1188.6,548.7 L1192.2,544.0 L1195.8,539.3 L1199.4,534.6 L1203.0,529.9 L1206.6,525.2 L1210.3,520.4 L1213.9,515.6 L1217.5,510.8 L1221.1,506.0 L1224.7,501.2 L1228.3,496.4 L1231.9,491.6 L1235.5,486.7 L1239.1,481.9 L1242.8,477.1 L1246.4,472.2 L1250.0,467.4 L1253.6,462.5 L1257.2,457.7 L1260.8,452.8 L1264.4,448.0 L1268.0,443.2 L1271.7,438.3 L1275.3,433.5 L1278.9,428.7 L1282.5,424.0 L1286.1,419.2 L1289.7,414.5 L1293.3,409.7 L1296.9,405.0 L1300.6,400.4 L1304.2,395.7 L1307.8,391.1 L1311.4,386.5 L1315.0,382.0 L1318.6,377.5 L1322.2,373.0 L1325.8,368.6 L1329.4,364.2 L1333.1,359.9 L1336.7,355.6 L1340.3,351.4 L1343.9,347.2 L1347.5,343.1 L1351.1,339.0 L1354.7,335.0 L1358.3,331.1 L1362.0,327.2 L1365.6,323.5 L1369.2,319.7 L1372.8,316.1 L1376.4,312.5 L1380.0,309.0 L1383.6,305.6 L1387.2,302.3 L1390.9,299.1 L1394.5,296.0 L1398.1,292.9 L1401.7,290.0 L1405.3,287.1 L1408.9,284.4 L1412.5,281.8 L1416.1,279.2 L1419.7,276.8 L1423.4,274.5 L1427.0,272.3 L1430.6,270.2 L1434.2,268.2 L1437.8,266.4 L1441.4,264.7 L1445.0,263.1 L1448.6,261.6 L1452.3,260.3 L1455.9,259.0 L1459.5,258.0 L1463.1,257.0 L1466.7,256.2 L1470.3,255.5 L1473.9,255.0 L1477.5,254.6 L1481.2,254.4 L1484.8,254.3 L1488.4,254.3 L1492.0,254.5 L1495.6,254.8 L1499.2,255.3 L1502.8,256.0 L1506.4,256.7 L1510.0,257.7 L1513.7,258.8 L1517.3,260.0 L1520.9,261.4 L1524.5,263.0 L1528.1,264.7 L1531.7,266.6 L1535.3,268.6 L1538.9,270.8 L1542.6,273.2 L1546.2,275.7 L1549.8,278.3 L1553.4,281.2 L1557.0,284.1 L1560.6,287.3 L1564.2,290.6 L1567.8,294.0 L1571.5,297.6 L1575.1,301.4 L1578.7,305.3 L1582.3,309.4 L1585.9,313.6 L1589.5,318.0 L1593.1,322.5 L1596.7,327.2 L1600.3,332.0 L1604.0,337.0 L1607.6,342.1 L1611.2,347.4 L1614.8,352.8 L1618.4,358.3 L1622.0,364.0 L1625.6,369.8 L1629.2,375.8 L1632.9,381.9 L1636.5,388.1 L1640.1,394.5 L1643.7,401.0 L1647.3,407.6 L1650.9,414.3 L1654.5,421.2 L1658.1,428.2 L1661.8,435.3 L1665.4,442.5 L1669.0,449.8 L1672.6,457.2 L1676.2,464.8 L1679.8,472.4 L1683.4,480.1 L1687.0,488.0 L1690.6,495.9 L1694.3,503.9 L1697.9,512.0 L1701.5,520.2 L1705.1,528.5 L1708.7,536.9 L1712.3,545.3 L1715.9,553.8 L1719.5,562.4 L1723.2,571.0 L1726.8,579.7 L1730.4,588.5 L1734.0,597.3 L1737.6,606.2 L1741.2,615.1 L1744.8,624.1 L1748.4,633.1 L1752.1,642.2 L1755.7,651.3 L1759.3,660.4 L1762.9,669.6 L1766.5,678.8 L1770.1,688.0 L1773.7,697.2 L1777.3,706.5 L1780.9,715.8 L1784.6,725.1 L1788.2,734.4 L1791.8,743.7 L1795.4,753.0 L1799.0,762.3 L1802.6,771.6 L1806.2,780.9 L1809.8,790.2 L1813.5,799.5 L1817.1,808.7 L1820.7,818.0 L1824.3,827.2 L1827.9,836.4 L1831.5,845.6 L1835.1,854.7 L1838.7,863.8 L1842.4,872.9 L1846.0,882.0 L1849.6,891.0 L1853.2,899.9 L1856.8,908.9 L1860.4,917.7 L1864.0,926.6 L1867.6,935.3 L1871.2,944.1 L1874.9,952.7 L1878.5,961.4 L1882.1,969.9 L1885.7,978.4 L1889.3,986.9 L1892.9,995.2 L1896.5,1003.5 L1900.1,1011.8 L1903.8,1019.9 L1907.4,1028.0 L1911.0,1036.1 L1914.6,1044.0 L1918.2,1051.9 L1921.8,1059.7 L1925.4,1067.4 L1929.0,1075.1 L1932.7,1082.6 L1936.3,1090.1 L1939.9,1097.5 L1943.5,1104.9 L1947.1,1112.1 L1950.7,1119.2 L1954.3,1126.3 L1957.9,1133.3 L1961.5,1140.2 L1965.2,1147.0 L1968.8,1153.7 L1972.4,1160.4 L1976.0,1166.9 L1979.6,1173.4 L1983.2,1179.7 L1986.8,1186.0 L1990.4,1192.2 L1994.1,1198.3 L1997.7,1204.3 L2001.3,1210.3 L2004.9,1216.1 L2008.5,1221.8 L2012.1,1227.5 L2015.7,1233.1 L2019.3,1238.5 L2023.0,1243.9 L2026.6,1249.2 L2030.2,1254.4 L2033.8,1259.5 L2037.4,1264.6 L2041.0,1269.5 L2044.6,1274.4 L2048.2,1279.1 L2051.8,1283.8 L2055.5,1288.4 L2059.1,1292.9 L2062.7,1297.4 L2066.3,1301.7 L2069.9,1306.0 L2073.5,1310.2" stroke="#f00" stroke-width="3" stroke-linejoin="round"/>
</g>
<rect x="412.0" y="90.0" width="1806.0" height="1361.0" fill="none" stroke="#000" stroke-width="6"/>
<path d="M385,1451.0H412.0 M398,1337.0H412.0 M385,1224.0H412.0 M398,1110.0H412.0 M385,997.0H412.0 M398,883.0H412.0 M385,770.0H412.0 M398,657.0H412.0 M385,543.0H412.0 M398,430.0H412.0 M385,316.0H412.0 M398,203.0H412.0 M385,90.0H412.0 M412.0,1451.0V1465 M593.0,1451.0V1479 M773.0,1451.0V1465 M954.0,1451.0V1479 M1134.0,1451.0V1465 M1315.0,1451.0V1479 M1496.0,1451.0V1465 M1676.0,1451.0V1479 M1857.0,1451.0V1465 M2037.0,1451.0V1479 M2218.0,1451.0V1465" stroke="#000" stroke-width="6" fill="none"/>
<line x1="1731.5" y1="230.2" x2="1903" y2="230.2" stroke="#f00" stroke-width="11" stroke-linecap="round"/>
<text transform="translate(154.00,113.00) scale(0.945,1)" font-family='"Liberation Serif", "Times New Roman", serif' font-size="81.5" fill="#000">300.0k</text>
<text transform="translate(154.00,339.83) scale(0.945,1)" font-family='"Liberation Serif", "Times New Roman", serif' font-size="81.5" fill="#000">250.0k</text>
<text transform="translate(154.00,566.66) scale(0.945,1)" font-family='"Liberation Serif", "Times New Roman", serif' font-size="81.5" fill="#000">200.0k</text>
<text transform="translate(154.00,793.49) scale(0.945,1)" font-family='"Liberation Serif", "Times New Roman", serif' font-size="81.5" fill="#000">150.0k</text>
<text transform="translate(154.00,1020.32) scale(0.945,1)" font-family='"Liberation Serif", "Times New Roman", serif' font-size="81.5" fill="#000">100.0k</text>
<text transform="translate(193.00,1247.15) scale(0.945,1)" font-family='"Liberation Serif", "Times New Roman", serif' font-size="81.5" fill="#000">50.0k</text>
<text transform="translate(271.70,1473.98) scale(0.945,1)" font-family='"Liberation Serif", "Times New Roman", serif' font-size="81.5" fill="#000">0.0</text>
<text transform="translate(529.50,1559.00) scale(0.933,1)" font-family='"Liberation Sans", Arial, sans-serif' font-size="81.5" fill="#000" stroke="#000" stroke-width="0.8">300</text>
<text transform="translate(890.70,1559.00) scale(0.933,1)" font-family='"Liberation Sans", Arial, sans-serif' font-size="81.5" fill="#000" stroke="#000" stroke-width="0.8">350</text>
<text transform="translate(1252.40,1559.00) scale(0.933,1)" font-family='"Liberation Sans", Arial, sans-serif' font-size="81.5" fill="#000" stroke="#000" stroke-width="0.8">400</text>
<text transform="translate(1613.60,1559.00) scale(0.933,1)" font-family='"Liberation Sans", Arial, sans-serif' font-size="81.5" fill="#000" stroke="#000" stroke-width="0.8">450</text>
<text transform="translate(1974.30,1559.00) scale(0.933,1)" font-family='"Liberation Sans", Arial, sans-serif' font-size="81.5" fill="#000" stroke="#000" stroke-width="0.8">500</text>
<text transform="translate(1082.50,1650.65) scale(0.954,1)" font-family='"Liberation Serif", "Times New Roman", serif' font-size="81.5" fill="#000">Wavelength(nm)</text>
<text transform="translate(136.40,914.90) rotate(-90) scale(0.979,1)" font-family='"Liberation Serif", "Times New Roman", serif' font-size="81.3" fill="#000">Count(a.u.)</text>
<text transform="translate(1923.20,256.95) scale(0.947,1)" font-family='"Liberation Serif", "Times New Roman", serif' font-size="81.5" fill="#000">em540</text>
<text transform="translate(574.10,267.95) scale(1.0,1)" font-family='"Liberation Serif", "Times New Roman", serif' font-size="81.5" fill="#000">a</text>
<text transform="translate(1481.70,562.85) scale(0.946,1)" font-family='"Liberation Serif", "Times New Roman", serif' font-size="81.5" fill="#000">434nm</text>
<text transform="translate(1028.80,804.90) scale(0.948,1)" font-family='"Liberation Sans", Arial, sans-serif' font-size="81.5" fill="#000" stroke="#000" stroke-width="0.8">366nm</text>
<text transform="translate(452.00,1187.90) scale(0.9455,1)" font-family='"Liberation Serif", "Times New Roman", serif' font-size="81.5" fill="#000">282nm</text>
</svg></body></html>
